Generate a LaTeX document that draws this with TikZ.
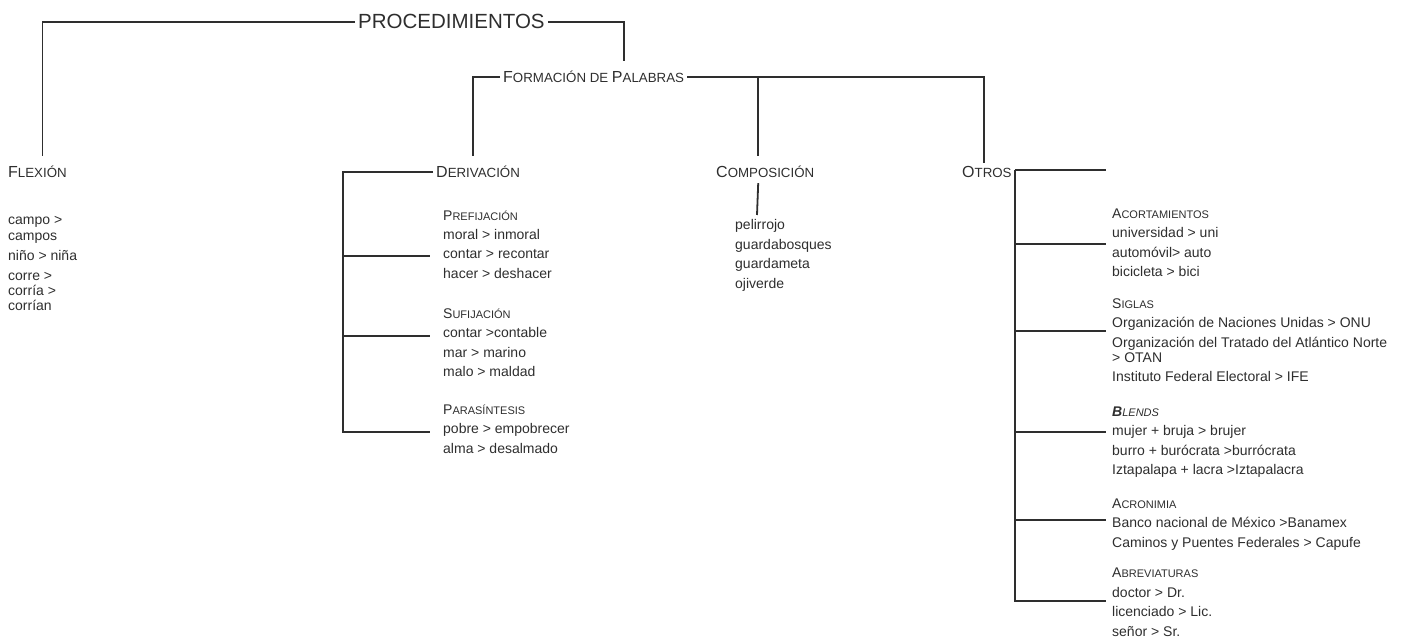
\documentclass[tikz,border=0pt]{standalone}
\usepackage{fontspec}
\setmainfont{Liberation Sans}
\usetikzlibrary{positioning,calc}

\definecolor{ink}{HTML}{2E2E2E}
% fake small caps: big first letter, smaller capitals after it
\newcommand{\capsA}[2]{{\fontsize{16}{16}\selectfont #1}{\fontsize{13.3}{13.3}\selectfont #2}}
\newcommand{\capsB}[2]{{\fontsize{14}{14}\selectfont #1}{\fontsize{11}{11}\selectfont #2}}

\tikzset{
  rama/.style={draw=ink, line width=1.8pt},
  raiz/.style={anchor=base west, inner xsep=3pt, inner ysep=8pt, text height=14.5pt, text depth=0pt,
    text=ink, font=\fontsize{20.5}{20.5}\selectfont},
  titulo/.style={anchor=base west, inner xsep=3pt, inner ysep=10pt, text height=11.5pt, text depth=0pt, text=ink},
  % lists sit on the baseline of their last line
  lista/.style={anchor=base west, inner sep=0pt, align=left, text=ink, font=\fontsize{14}{19.5}\selectfont},
}

\begin{document}
\begin{tikzpicture}[x=1pt, y=-1pt]
  \useasboundingbox (0,0) rectangle (1409,639);

  % main headings
  \node[raiz] (proc) at (355,29) {PROCEDIMIENTOS};
  \node[titulo] (formacion) at (500,83) {\capsA{F}{ORMACIÓN DE }\capsA{P}{ALABRAS}};
  \node[titulo] (flexion) at (5,178) {\capsA{F}{LEXIÓN}};
  \node[titulo] (derivacion) at (433,178) {\capsA{D}{ERIVACIÓN}};
  \node[titulo] (composicion) at (713,178) {\capsA{C}{OMPOSICIÓN}};
  \node[titulo] (otros) at (959,178) {\capsA{O}{TROS}};

  % examples under each heading
  \node[lista] (flex_ej) at (8,310) {campo >\\[-3.5pt] campos\\ niño > niña\\[0.5pt] corre >\\[-4.5pt] corría >\\[-4.5pt] corrían};
  \node[lista] (pref) at (443,278.5) {\capsB{P}{REFIJACIÓN}\\ moral > inmoral\\ contar > recontar\\ hacer > deshacer};
  \node[lista] (suf) at (443,376.5) {\capsB{S}{UFIJACIÓN}\\ contar >contable\\ mar > marino\\ malo > maldad};
  \node[lista] (para) at (443,453) {\capsB{P}{ARASÍNTESIS}\\ pobre > empobrecer\\ alma > desalmado};
  \node[lista] (comp_ej) at (735,288) {pelirrojo\\ guardabosques\\ guardameta\\ ojiverde};
  \node[lista] (acort) at (1112,276.5) {\capsB{A}{CORTAMIENTOS}\\ universidad > uni\\ automóvil> auto\\ bicicleta > bici};
  \node[lista] (siglas) at (1112,381.5) {\capsB{S}{IGLAS}\\ Organización de Naciones Unidas > ONU\\
    Organización del Tratado del Atlántico Norte\\[-4.5pt] > OTAN\\ Instituto Federal Electoral > IFE};
  \node[lista] (blends) at (1112,474.5) {\textit{\textbf{\fontsize{14}{14}\selectfont B}{\fontsize{11}{11}\selectfont LENDS}}\\
    mujer + bruja > brujer\\ burro + burócrata >burrócrata\\ Iztapalapa + lacra >Iztapalacra};
  \node[lista] (acron) at (1112,547) {\capsB{A}{CRONIMIA}\\ Banco nacional de México >Banamex\\ Caminos y Puentes Federales > Capufe};
  \node[lista] (abrev) at (1112,636) {\capsB{A}{BREVIATURAS}\\ doctor > Dr.\\ licenciado > Lic.\\ señor > Sr.};

  % free ends of the branch lines
  \coordinate (c_end) at (757,215);
  \coordinate (d_spine) at (343,432);
  \coordinate (d_pref) at (430,256);
  \coordinate (d_suf) at (430,336);
  \coordinate (d_para) at (430,432);
  \coordinate (o_top) at (1106,170);
  \coordinate (o_acort) at (1106,244);
  \coordinate (o_siglas) at (1106,331);
  \coordinate (o_blends) at (1106,432);
  \coordinate (o_acron) at (1106,520);
  \coordinate (o_abrev) at (1106,601);

  % top level tree
  \draw[rama] (proc.west) -| ([xshift=5pt]flexion.north);
  \draw[rama] (proc.east) -| ([xshift=30pt]formacion.north);
  \draw[rama] (formacion.west) -| ([xshift=-5pt]derivacion.north);
  \draw[rama] (formacion.east) -| ([xshift=-3pt,yshift=-7pt]otros.north);
  \draw[rama] ([xshift=-7pt]composicion.north |- formacion.east) -- ([xshift=-7pt]composicion.north);
  \draw[rama] ([xshift=-7pt,yshift=5pt]composicion.south) -- (c_end);

  % derivacion bracket
  \draw[rama] (derivacion.west) -| (d_spine) -- (d_para);
  \foreach \b in {pref,suf}
    \draw[rama] (d_spine |- d_\b) -- (d_\b);

  % otros bracket
  \draw[rama] (otros.east |- o_top) -- (o_top);
  \draw[rama] (otros.east |- o_top) |- (o_abrev);
  \foreach \b in {acort,siglas,blends,acron}
    \draw[rama] (otros.east |- o_\b) -- (o_\b);
\end{tikzpicture}
\end{document}
